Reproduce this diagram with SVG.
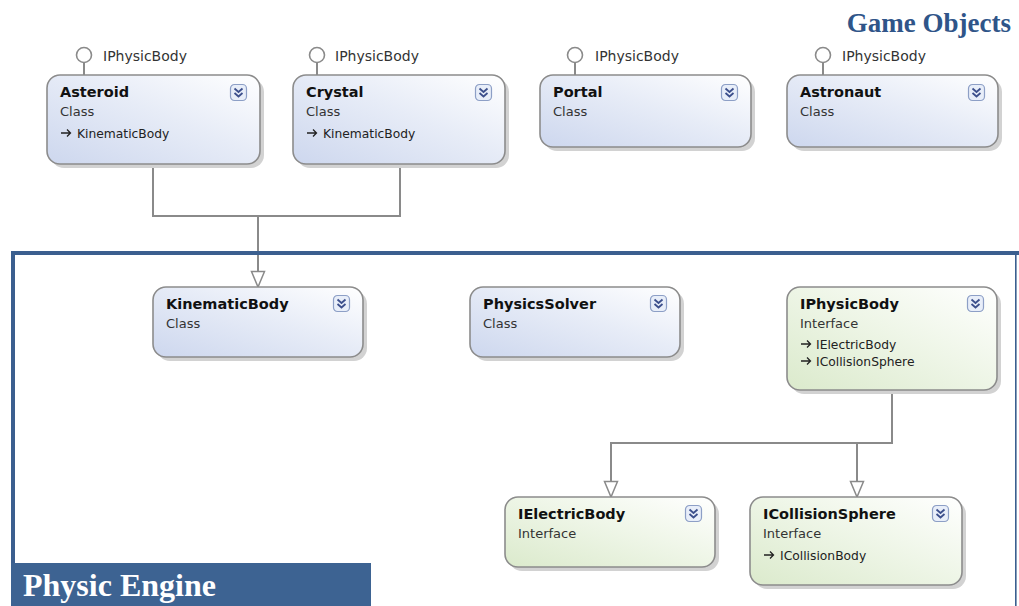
<svg xmlns="http://www.w3.org/2000/svg" xmlns:xlink="http://www.w3.org/1999/xlink" width="1019" height="606" viewBox="0 0 1019 606">
<style>
.box{stroke:#8c8c8c;stroke-width:1.6}
.cls{fill:url(#gClass)}
.itf{fill:url(#gItf)}
.shadow{fill:#d2d2d2}
.title{font-family:"DejaVu Sans",sans-serif;font-weight:bold;font-size:14.5px;fill:#111}
.sub{font-family:"DejaVu Sans",sans-serif;font-size:13px;fill:#333}
.mem{font-family:"DejaVu Sans",sans-serif;font-size:12.3px;fill:#222}
.lbl{font-family:"DejaVu Sans",sans-serif;font-size:14px;fill:#333}
.conn{fill:none;stroke:#8a8a8a;stroke-width:2}
.lolly{fill:#fff;stroke:#8a8a8a;stroke-width:1.6}
.frame{fill:#3b5f8f}
.head{font-family:"Liberation Serif","Times New Roman",serif;font-weight:bold}
</style>
<defs>
<linearGradient id="gClass" x1="0" y1="1" x2="1" y2="0">
<stop offset="0" stop-color="#cdd7ee"/>
<stop offset="0.55" stop-color="#e7ecf7"/>
<stop offset="1" stop-color="#ffffff"/>
</linearGradient>
<linearGradient id="gItf" x1="0" y1="1" x2="1" y2="0">
<stop offset="0" stop-color="#dbeacc"/>
<stop offset="0.55" stop-color="#eff6e8"/>
<stop offset="1" stop-color="#ffffff"/>
</linearGradient>
<marker id="tri" viewBox="0 0 16 14" refX="16" refY="7" markerWidth="16" markerHeight="14" markerUnits="userSpaceOnUse" orient="auto" overflow="visible">
<path d="M0.5,0.5 L16,7 L0.5,13.5 Z" fill="#fff" stroke="#8a8a8a" stroke-width="1.5"/>
</marker>
<g id="chev">
<rect x="0.5" y="0.5" width="16" height="16" rx="4" fill="#e8eef9" stroke="#8d9fc6" stroke-width="1.2"/>
<path d="M4.5,4.5 L8.5,8 L12.5,4.5 M4.5,9 L8.5,12.5 L12.5,9" fill="none" stroke="#3c4f8c" stroke-width="1.8"/>
</g>
<path id="impl" d="M0,0 H9 M6,-3.5 L9.5,0 L6,3.5" fill="none" stroke="#222" stroke-width="1.3"/>
</defs>
<rect width="1019" height="606" fill="#fff"/>

<g id="connectors">
<path class="conn" d="M153,164 V216 H400 V164"/>
<path class="conn" d="M258,216 V287" marker-end="url(#tri)"/>
<path class="conn" d="M892,390 V443 H611 V497" marker-end="url(#tri)"/>
<path class="conn" d="M857,443 V497" marker-end="url(#tri)"/>
<path class="conn" d="M84,63 V75 M317,63 V75 M575,63 V75 M823,63 V75"/>
</g>

<g id="frame">
<rect class="frame" x="11" y="251" width="1008" height="4"/>
<rect class="frame" x="11" y="251" width="4" height="355"/>
<rect class="frame" x="1015" y="251" width="1.6" height="355"/>
</g>

<g id="physic-engine-label">
<rect x="11" y="563" width="360" height="43" fill="#3d6392"/>
<text class="head" x="23" y="596" font-size="32" fill="#fff">Physic Engine</text>
</g>
<g id="game-objects-label">
<text class="head" x="1011" y="32" font-size="27" fill="#2f5589" text-anchor="end">Game Objects</text>
</g>

<g id="asteroid">
<circle class="lolly" cx="84" cy="55" r="7.5"/>
<text class="lbl" x="103" y="61">IPhysicBody</text>
<rect class="shadow" x="51" y="79" width="213" height="89" rx="13"/>
<rect class="box cls" x="47" y="75" width="213" height="89" rx="13"/>
<text class="title" x="60" y="97">Asteroid</text>
<text class="sub" x="60" y="116">Class</text>
<use xlink:href="#impl" x="61" y="133"/>
<text class="mem" x="77" y="138">KinematicBody</text>
<use xlink:href="#chev" x="230" y="84"/>
</g>

<g id="crystal">
<circle class="lolly" cx="317" cy="55" r="7.5"/>
<text class="lbl" x="335" y="61">IPhysicBody</text>
<rect class="shadow" x="297" y="79" width="212" height="89" rx="13"/>
<rect class="box cls" x="293" y="75" width="212" height="89" rx="13"/>
<text class="title" x="306" y="97">Crystal</text>
<text class="sub" x="306" y="116">Class</text>
<use xlink:href="#impl" x="307" y="133"/>
<text class="mem" x="323" y="138">KinematicBody</text>
<use xlink:href="#chev" x="475" y="84"/>
</g>

<g id="portal">
<circle class="lolly" cx="575" cy="55" r="7.5"/>
<text class="lbl" x="595" y="61">IPhysicBody</text>
<rect class="shadow" x="544" y="79" width="211" height="72" rx="13"/>
<rect class="box cls" x="540" y="75" width="211" height="72" rx="13"/>
<text class="title" x="553" y="97">Portal</text>
<text class="sub" x="553" y="116">Class</text>
<use xlink:href="#chev" x="721" y="84"/>
</g>

<g id="astronaut">
<circle class="lolly" cx="823" cy="55" r="7.5"/>
<text class="lbl" x="842" y="61">IPhysicBody</text>
<rect class="shadow" x="791" y="79" width="211" height="72" rx="13"/>
<rect class="box cls" x="787" y="75" width="211" height="72" rx="13"/>
<text class="title" x="800" y="97">Astronaut</text>
<text class="sub" x="800" y="116">Class</text>
<use xlink:href="#chev" x="968" y="84"/>
</g>

<g id="kinematicbody">
<rect class="shadow" x="157" y="291" width="210" height="70" rx="13"/>
<rect class="box cls" x="153" y="287" width="210" height="70" rx="13"/>
<text class="title" x="166" y="309">KinematicBody</text>
<text class="sub" x="166" y="328">Class</text>
<use xlink:href="#chev" x="333" y="295"/>
</g>

<g id="physicssolver">
<rect class="shadow" x="474" y="291" width="210" height="70" rx="13"/>
<rect class="box cls" x="470" y="287" width="210" height="70" rx="13"/>
<text class="title" x="483" y="309">PhysicsSolver</text>
<text class="sub" x="483" y="328">Class</text>
<use xlink:href="#chev" x="650" y="295"/>
</g>

<g id="iphysicbody">
<rect class="shadow" x="791" y="291" width="210" height="103" rx="13"/>
<rect class="box itf" x="787" y="287" width="210" height="103" rx="13"/>
<text class="title" x="800" y="309">IPhysicBody</text>
<text class="sub" x="800" y="328">Interface</text>
<use xlink:href="#impl" x="801" y="344"/>
<text class="mem" x="816" y="349">IElectricBody</text>
<use xlink:href="#impl" x="801" y="361"/>
<text class="mem" x="816" y="366">ICollisionSphere</text>
<use xlink:href="#chev" x="967" y="295"/>
</g>

<g id="ielectricbody">
<rect class="shadow" x="509" y="501" width="210" height="70" rx="13"/>
<rect class="box itf" x="505" y="497" width="210" height="70" rx="13"/>
<text class="title" x="518" y="519">IElectricBody</text>
<text class="sub" x="518" y="538">Interface</text>
<use xlink:href="#chev" x="685" y="505"/>
</g>

<g id="icollisionsphere">
<rect class="shadow" x="754" y="501" width="212" height="88" rx="13"/>
<rect class="box itf" x="750" y="497" width="212" height="88" rx="13"/>
<text class="title" x="763" y="519">ICollisionSphere</text>
<text class="sub" x="763" y="538">Interface</text>
<use xlink:href="#impl" x="764" y="555"/>
<text class="mem" x="780" y="560">ICollisionBody</text>
<use xlink:href="#chev" x="932" y="505"/>
</g>
</svg>
